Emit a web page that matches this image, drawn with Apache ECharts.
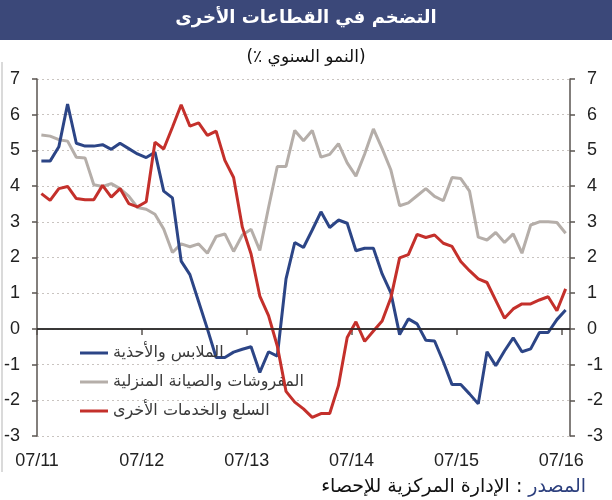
<!DOCTYPE html>
<html>
<head>
<meta charset="utf-8">
<script src="https://cdn.jsdelivr.net/npm/echarts@6/dist/echarts.min.js"></script>
<style>
  html, body { margin: 0; padding: 0; background: #fff; }
  #chart { width: 612px; height: 500px; }
</style>
</head>
<body>
<div id="chart"></div>
<script>
// months 07/11 .. 07/16 (61 monthly points)
const months = []
for (let y = 11; y <= 16; y++) {
  for (let m = 1; m <= 12; m++) {
    if ((y === 11 && m < 7) || (y === 16 && m > 7)) continue
    months.push((m < 10 ? '0' + m : '' + m) + '/' + y)
  }
}
const xTickLabels = ['07/11', '07/12', '07/13', '07/14', '07/15', '07/16']

const seriesNames = ['الملابس والأحذية', 'المفروشات والصيانة المنزلية', 'السلع والخدمات الأخرى']

// الملابس والأحذية
const clothing = [
  4.7, 4.7, 5.1, 6.3, 5.2, 5.12, 5.12, 5.16, 5.03, 5.2,
  5.05, 4.9, 4.8, 4.95, 3.86, 3.67, 1.9, 1.52, 0.76, 0.0,
  -0.8, -0.8, -0.65, -0.57, -0.5, -1.22, -0.64, -0.76, 1.4, 2.42,
  2.28, 2.77, 3.28, 2.84, 3.05, 2.96, 2.19, 2.26, 2.26, 1.54,
  1.01, -0.16, 0.28, 0.14, -0.32, -0.34, -0.92, -1.56, -1.56, -1.82,
  -2.1, -0.64, -1.03, -0.62, -0.25, -0.64, -0.56, -0.1, -0.1, 0.26, 0.53
]
// المفروشات والصيانة المنزلية
const furnishing = [
  5.43, 5.4, 5.3, 5.26, 4.81, 4.79, 4.04, 3.99, 4.07, 3.93,
  3.72, 3.4, 3.35, 3.21, 2.8, 2.14, 2.38, 2.3, 2.38, 2.12,
  2.59, 2.66, 2.17, 2.63, 2.79, 2.2, 3.4, 4.55, 4.55, 5.56,
  5.27, 5.56, 4.81, 4.89, 5.19, 4.65, 4.28, 4.9, 5.6, 5.05,
  4.45, 3.45, 3.53, 3.73, 3.93, 3.71, 3.59, 4.24, 4.21, 3.86,
  2.57, 2.49, 2.7, 2.42, 2.66, 2.12, 2.91, 3.0, 3.0, 2.98, 2.68
]
// السلع والخدمات الأخرى
const otherGoods = [
  3.79, 3.6, 3.93, 3.99, 3.65, 3.62, 3.62, 4.02, 3.69, 3.93,
  3.51, 3.42, 3.56, 5.23, 5.04, 5.65, 6.28, 5.68, 5.77, 5.42,
  5.54, 4.72, 4.24, 2.85, 2.1, 0.92, 0.37, -0.48, -1.75, -2.05,
  -2.24, -2.48, -2.37, -2.37, -1.59, -0.24, 0.2, -0.35, -0.06, 0.22,
  0.87, 1.99, 2.08, 2.65, 2.56, 2.63, 2.4, 2.31, 1.89, 1.63,
  1.4, 1.3, 0.8, 0.3, 0.56, 0.7, 0.7, 0.81, 0.9, 0.51, 1.12
]

const colors = ['#2c4586', '#b5aea9', '#c4302b']
const numFont = '"Liberation Sans", Arial, sans-serif'
const arFont = '"DejaVu Sans", Arial, sans-serif'

// each monthly point sits in the middle of its month slot
const toPoints = arr => arr.map((v, i) => [i + 0.5, v])

const chart = echarts.init(document.getElementById('chart'))

const yAxisBase = {
  type: 'value',
  min: -3,
  max: 7,
  interval: 1,
  axisLine: { show: true, lineStyle: { color: '#5a5450', width: 1.5 } },
  axisTick: { show: true, length: 5, lineStyle: { color: '#5a5450', width: 1.5 } },
  axisLabel: { color: '#222', fontSize: 18, fontFamily: numFont, margin: 17 }
}

chart.setOption({
  animation: false,
  graphic: [
    { type: 'rect', left: 0, top: 0, shape: { width: 612, height: 40 }, style: { fill: '#3b4879' } },
    { type: 'line', shape: { x1: 2, y1: 62, x2: 2, y2: 472 }, style: { stroke: '#b5b5b5', lineWidth: 1 } },
    {
      type: 'text', left: 'center', top: 9,
      style: { text: 'التضخم في القطاعات الأخرى', fill: '#fff', font: 'bold 18px ' + arFont }
    },
    {
      // pieces drawn left to right so the bracket / percent sign keep their place
      type: 'text', left: 'center', top: 49,
      style: {
        text: '{t|(}{t|٪ }{t|النمو السنوي}{t|)}',
        rich: { t: { fill: '#111', font: '17px ' + arFont } }
      }
    },
    {
      type: 'text', right: 26, top: 478,
      style: {
        text: '{b|الإدارة المركزية للإحصاء}{b| : }{a|المصدر}',
        rich: {
          a: { fill: '#2c3f7d', font: '19px ' + arFont },
          b: { fill: '#111', font: '19px ' + arFont }
        }
      }
    }
  ],
  grid: { left: 37, right: 42, top: 79, bottom: 64 },
  legend: {
    orient: 'vertical',
    left: 75,
    top: 340,
    itemGap: 13,
    itemWidth: 28,
    itemHeight: 3,
    icon: 'rect',
    data: seriesNames,
    textStyle: { color: '#3a3a3a', fontSize: 16, fontFamily: arFont }
  },
  xAxis: {
    type: 'value',
    min: 0,
    max: months.length,
    interval: 12,
    splitLine: { show: false },
    axisLine: { lineStyle: { color: '#5a5450', width: 1.5 } },
    axisTick: { show: true, length: 6, customValues: [0, 12, 24, 36, 48, 60], lineStyle: { color: '#5a5450', width: 1.5 } },
    axisLabel: {
      customValues: [0, 12, 24, 36, 48, 60],
      formatter: v => xTickLabels[Math.round(v / 12)] || '',
      color: '#222', fontSize: 18, fontFamily: numFont, margin: 16
    }
  },
  yAxis: [
    Object.assign({}, yAxisBase, {
      position: 'left',
      splitLine: { show: true, lineStyle: { color: '#c9c4c0', type: [2, 3], width: 1 } }
    }),
    Object.assign({}, yAxisBase, {
      position: 'right',
      splitLine: { show: false }
    })
  ],
  series: [
    {
      name: seriesNames[0], type: 'line', symbol: 'none',
      data: toPoints(clothing),
      lineStyle: { color: colors[0], width: 3 }, itemStyle: { color: colors[0] },
      markLine: {
        silent: true, symbol: 'none', label: { show: false },
        lineStyle: { color: '#222', type: 'solid', width: 1.5 },
        data: [{ yAxis: 0 }]
      },
      z: 3
    },
    {
      name: seriesNames[1], type: 'line', symbol: 'none',
      data: toPoints(furnishing),
      lineStyle: { color: colors[1], width: 3 }, itemStyle: { color: colors[1] },
      z: 2
    },
    {
      name: seriesNames[2], type: 'line', symbol: 'none',
      data: toPoints(otherGoods),
      lineStyle: { color: colors[2], width: 3 }, itemStyle: { color: colors[2] },
      z: 4
    }
  ]
})
</script>
</body>
</html>
